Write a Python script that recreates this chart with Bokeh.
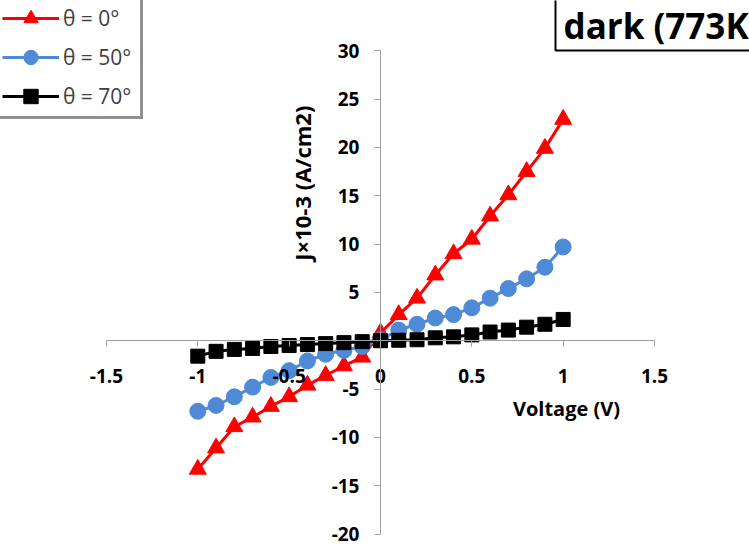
from math import pi
from bokeh.plotting import figure
from bokeh.models import Legend, LegendItem, Label, FixedTicker, Range1d
from bokeh.embed import file_html
from bokeh.resources import INLINE

voltage = [-1.0, -0.9, -0.8, -0.7, -0.6, -0.5, -0.4, -0.3, -0.2, -0.1, 0.0,
           0.1, 0.2, 0.3, 0.4, 0.5, 0.6, 0.7, 0.8, 0.9, 1.0]
j_theta0 = [-13.3, -11.1, -8.9, -7.9, -6.8, -5.8, -4.6, -3.6, -2.6, -1.7, 0.8,
            2.7, 4.4, 6.8, 9.0, 10.5, 12.9, 15.1, 17.5, 19.9, 22.9]
j_theta50 = [-7.3, -6.7, -5.8, -4.8, -3.8, -3.1, -2.1, -1.4, -1.0, -0.6, 0.1,
             1.1, 1.7, 2.35, 2.7, 3.4, 4.4, 5.4, 6.4, 7.6, 9.7]
j_theta70 = [-1.6, -1.1, -0.9, -0.8, -0.6, -0.5, -0.4, -0.3, -0.2, -0.1, 0.0,
             0.05, 0.1, 0.3, 0.4, 0.6, 0.9, 1.1, 1.4, 1.7, 2.2]
series_labels = ["θ = 0°", "θ = 50°", "θ = 70°"]
x_ticks = [-1.5, -1.0, -0.5, 0.0, 0.5, 1.0, 1.5]
x_tick_labels = ["-1.5", "-1", "-0.5", "0", "0.5", "1", "1.5"]
y_ticks = [-20, -15, -10, -5, 0, 5, 10, 15, 20, 25, 30]
y_tick_labels = ["-20", "-15", "-10", "-5", "", "5", "10", "15", "20", "25", "30"]

FONT = "Open Sans"

p = figure(width=749, height=548, x_range=Range1d(-2.080, 2.020),
           y_range=Range1d(-21.5, 35.2), output_backend="svg",
           toolbar_location=None, min_border=0)
p.outline_line_color = None
p.grid.visible = False
p.background_fill_color = "white"
p.border_fill_color = "white"

for ax in (p.xaxis, p.yaxis):
    ax.fixed_location = 0
    ax.axis_line_color = "#a0a0a0"
    ax.axis_line_width = 1
    ax.major_tick_line_color = "#a0a0a0"
    ax.major_tick_in = 0
    ax.major_tick_out = 6
    ax.minor_tick_line_color = None
    ax.major_label_text_font = FONT
    ax.major_label_text_font_style = "bold"
    ax.major_label_text_font_size = "19px"
    ax.major_label_text_color = "black"

p.xaxis.ticker = FixedTicker(ticks=x_ticks)
p.xaxis.bounds = (x_ticks[0], x_ticks[-1])
p.xaxis.major_label_overrides = {t: l for t, l in zip(x_ticks, x_tick_labels)}
p.xaxis.major_label_standoff = 22
p.yaxis.ticker = FixedTicker(ticks=y_ticks)
p.yaxis.bounds = (y_ticks[0], y_ticks[-1])
p.yaxis.major_label_overrides = {t: l for t, l in zip(y_ticks, y_tick_labels)}
p.yaxis.major_label_standoff = 15

r0l = p.line(voltage, j_theta0, line_color="#ff0000", line_width=3)
r0s = p.scatter(voltage, j_theta0, marker="triangle", size=17,
                fill_color="#ff0000", line_color="#ff0000")
r1l = p.line(voltage, j_theta50, line_color="#4f8ad6", line_width=3)
r1s = p.scatter(voltage, j_theta50, marker="circle", size=16,
                fill_color="#4f8ad6", line_color="#4f8ad6")
r2l = p.line(voltage, j_theta70, line_color="black", line_width=3)
r2s = p.scatter(voltage, j_theta70, marker="square", size=14,
                fill_color="black", line_color="black")

legend = Legend(items=[
    LegendItem(label=series_labels[0], renderers=[r0l, r0s]),
    LegendItem(label=series_labels[1], renderers=[r1l, r1s]),
    LegendItem(label=series_labels[2], renderers=[r2l, r2s]),
], location=(-3, 429))
legend.glyph_width = 57
legend.glyph_height = 36
legend.label_height = 36
legend.label_width = 75
legend.spacing = 3
legend.padding = 2
legend.margin = 0
legend.label_standoff = 4
legend.label_text_font = FONT
legend.label_text_font_size = "21px"
legend.label_text_color = "#404040"
legend.border_line_color = "#222222"
legend.border_line_width = 3
legend.background_fill_color = "white"
legend.background_fill_alpha = 1
p.add_layout(legend)

title = Label(x=555, y=498, x_units="screen", y_units="screen",
              text="dark (773K", text_font=FONT, text_font_style="bold",
              text_font_size="35px", text_color="black",
              text_baseline="bottom", text_align="left",
              padding=(8, 60, 40, 2), border_line_color="black",
              border_line_width=2, background_fill_color="white")
p.add_layout(title)

ylab = Label(x=-0.43, y=16.3, text="J×10-3 (A/cm2)", angle=pi / 2,
             text_font=FONT, text_font_style="bold", text_font_size="22px",
             text_align="center", text_baseline="middle", text_color="black")
p.add_layout(ylab)

xlab = Label(x=1.018, y=-7.0, text="Voltage (V)",
             text_font=FONT, text_font_style="bold", text_font_size="20px",
             text_align="center", text_baseline="middle", text_color="black")
p.add_layout(xlab)

open("out.html", "w").write(file_html(p, INLINE))
